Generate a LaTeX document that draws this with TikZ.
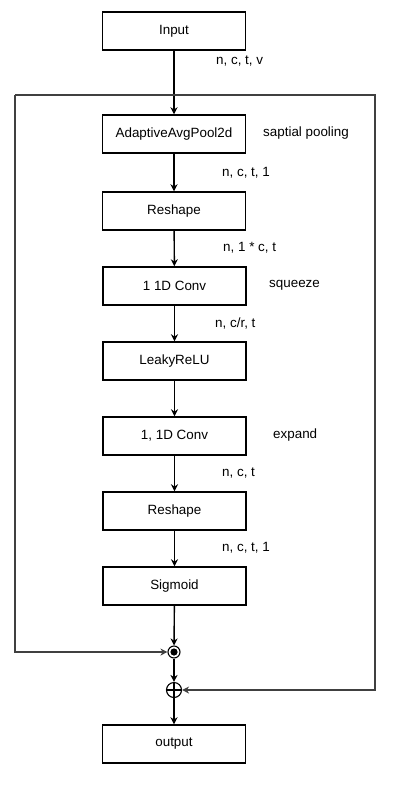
\documentclass[tikz,border=0pt]{standalone}
\usepackage{fontspec}
\setmainfont{Liberation Sans}
\usetikzlibrary{arrows.meta}
\begin{document}
\begin{tikzpicture}[x=1pt,y=-1pt,
  box/.style={draw, line width=1.5pt, minimum width=143pt, minimum height=38pt, inner sep=0pt, font=\fontsize{13.4}{15}\selectfont},
  lbl/.style={anchor=west, inner sep=0pt, font=\fontsize{13.4}{15}\selectfont},
  conn/.style={line width=1.4pt, -{Stealth[length=7pt,width=7pt]}},
  loopline/.style={draw=black!75, line width=1.8pt, -{Stealth[length=7pt,width=7pt]}}]
\useasboundingbox (0,0) rectangle (402,796);
\node[box] (in) at (174,31) {Input};
\node[box] (pool) at (174,134) {AdaptiveAvgPool2d};
\node[box] (rs1) at (174,211) {Reshape};
\node[box] (c1) at (174.5,286) {1 1D Conv};
\node[box] (relu) at (174.5,361) {LeakyReLU};
\node[box] (c2) at (174.5,436) {1, 1D Conv};
\node[box] (rs2) at (174.5,511) {Reshape};
\node[box] (sig) at (174.5,586) {Sigmoid};
\node[box] (out) at (174,744) {output};
\node[draw, circle, line width=1.1pt, minimum size=12pt, inner sep=0pt] (odot) at (174,652) {};
\fill (odot.center) circle (3.6pt);
\node[draw, circle, line width=1.1pt, minimum size=15pt, inner sep=0pt] (oplus) at (174,690) {};
\draw[line width=1.1pt] (oplus.north) -- (oplus.south) (oplus.west) -- (oplus.east);
\coordinate (tl) at (15,95);
\coordinate (tr) at (375,95);
\draw[conn] (in) -- (pool);
\draw[conn] (pool) -- (rs1);
\draw[conn] (rs1) -- (c1);
\draw[conn] (c1) -- (relu);
\draw[conn] (relu) -- (c2);
\draw[conn] (c2) -- (rs2);
\draw[conn] (rs2) -- (sig);
\draw[conn] (sig) -- (odot);
\draw[conn] (odot) -- (oplus);
\draw[conn] (oplus) -- (out);
\draw[loopline] (tl) |- (odot.west);
\draw[loopline] (tl) -- (tr) |- (oplus.east);
\node[lbl] (l1) at (216,61) {n, c, t, v};
\node[lbl] (l2) at (263,133) {saptial pooling};
\node[lbl] (l3) at (222,173) {n, c, t, 1};
\node[lbl] (l4) at (223,248) {n, 1 * c, t};
\node[lbl] (l5) at (269,285) {squeeze};
\node[lbl] (l6) at (215,323) {n, c/r, t};
\node[lbl] (l7) at (273,435) {expand};
\node[lbl] (l8) at (222,473) {n, c, t};
\node[lbl] (l9) at (222,548) {n, c, t, 1};
\end{tikzpicture}
\end{document}
